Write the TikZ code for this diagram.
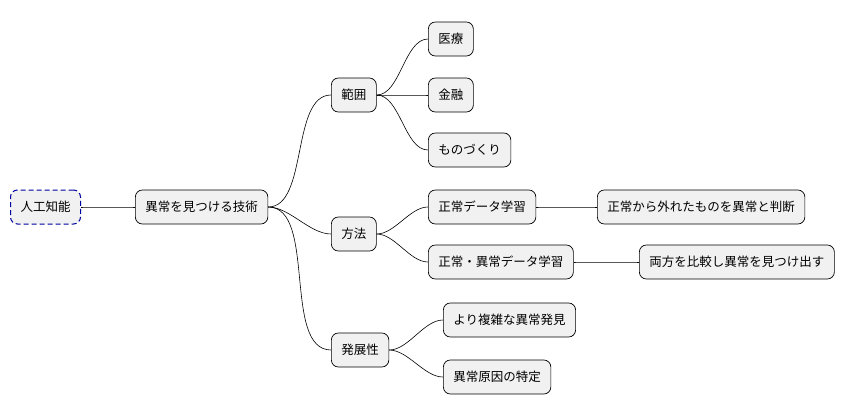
\documentclass[tikz,border=0pt]{standalone}
\usepackage{fontspec}
\newfontfamily\cjk{Noto Sans CJK JP}
\begin{document}
\begin{tikzpicture}[x=1pt,y=-1pt,
  box/.style={draw=black,fill={rgb,255:red,241;green,241;blue,241},rounded corners=7pt,
    minimum height=34pt,inner xsep=10pt,anchor=west,font=\cjk\fontsize{12.5}{14}\selectfont,line width=0.7pt},
  root/.style={box,draw={rgb,255:red,0;green,0;blue,160},dash pattern=on 5pt off 3pt,line width=1pt},
  link/.style={line width=0.6pt,out=0,in=180,looseness=0.8}]
\useasboundingbox (0,0) rectangle (866,415);
\node[root] (ai) at (10,207) {人工知能};
\node[box] (t) at (135,207) {異常を見つける技術};
\node[box] (r) at (331,95) {範囲};
\node[box] (m) at (331,234) {方法};
\node[box] (d) at (331,350) {発展性};
\node[box] (r1) at (428,39) {医療};
\node[box] (r2) at (428,95) {金融};
\node[box] (r3) at (428,150) {ものづくり};
\node[box] (m1) at (428,207) {正常データ学習};
\node[box] (m2) at (428,262) {正常・異常データ学習};
\node[box] (m1a) at (597,207) {正常から外れたものを異常と判断};
\node[box] (m2a) at (639,262) {両方を比較し異常を見つけ出す};
\node[box] (d1) at (443,320) {より複雑な異常発見};
\node[box] (d2) at (443,377) {異常原因の特定};
\foreach \a/\b in {ai/t,t/r,t/m,t/d,r/r1,r/r2,r/r3,m/m1,m/m2,m1/m1a,m2/m2a,d/d1,d/d2}
  \draw[link] (\a.east) to (\b.west);
\end{tikzpicture}
\end{document}
